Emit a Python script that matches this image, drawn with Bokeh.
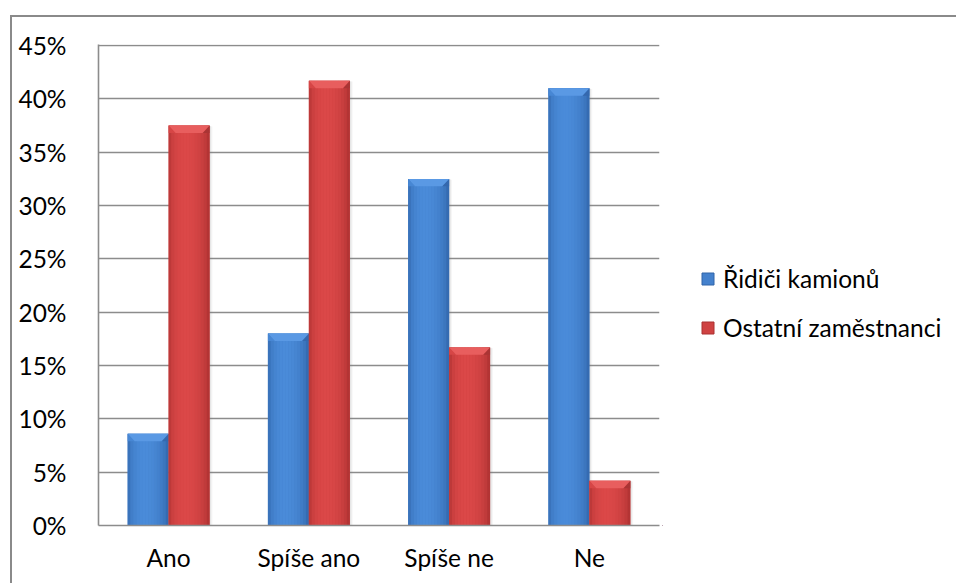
import math
from bokeh.plotting import figure
from bokeh.layouts import row
from bokeh.models import (FixedTicker, Legend, LegendItem, Range1d)
from bokeh.embed import file_html
from bokeh.resources import INLINE

# --- data -------------------------------------------------------------
categories = ["Ano", "Spíše ano", "Spíše ne", "Ne"]
series_names = ["Řidiči kamionů", "Ostatní zaměstnanci"]
ridici_kamionu = [8.6, 18.0, 32.5, 41.0]          # %
ostatni_zamestnanci = [37.5, 41.7, 16.7, 4.2]     # %
y_ticks = [0, 5, 10, 15, 20, 25, 30, 35, 40, 45]
y_tick_labels = ["0%", "5%", "10%", "15%", "20%", "25%", "30%", "35%", "40%", "45%"]

# --- style ------------------------------------------------------------
FONT = "Lato"
FONT_SIZE = "24.5px"
GRID = "#8c8c8c"
BAR_W = 0.292                      # width of one bar, in category units
BEVEL_DX = 0.05                    # bevel inset (category units)
BEVEL_DY = 0.7                     # bevel height (% units)
N_STRIPS = 14

palettes = {
    "blue": dict(edge=(0x2a, 0x5b, 0x9c), light=(0x4a, 0x8b, 0xd9),
                 top="#5a99e4", left="#4787d4", right="#3468ae"),
    "red": dict(edge=(0x9e, 0x2a, 0x2a), light=(0xdb, 0x48, 0x48),
                top="#e85e5e", left="#d64646", right="#aa3434"),
}

positions = [i + 0.5 for i in range(len(categories))]

# chart figure (plot area + axes)
p = figure(width=650, height=568, output_backend="svg", toolbar_location=None,
           x_range=Range1d(0, len(categories)), y_range=Range1d(0, 45.1),
           min_border_left=86, min_border_right=3, min_border_top=27,
           min_border_bottom=60)
p.outline_line_color = None
p.background_fill_color = "white"
p.border_fill_color = "white"


def mix(a, b, t):
    return "#%02x%02x%02x" % tuple(int(round(a[k] + (b[k] - a[k]) * t)) for k in range(3))


def draw_series(values, offset, pal):
    xs = [pos + offset for pos in positions]
    # soft drop shadow
    for k, a in ((0.020, 0.08), (0.011, 0.12)):
        p.vbar(x=[x + k for x in xs], top=[v - k * 4 for v in values], width=BAR_W,
               bottom=-1, fill_color="#7a7a7a", fill_alpha=a, line_color=None)
    p.vbar(x=xs, top=values, width=BAR_W, fill_color=mix(pal["edge"], pal["light"], 0.8),
           line_color=None)
    # cylindrical shading, strip by strip
    sx, st, sc = [], [], []
    sw = BAR_W / N_STRIPS
    for x, v in zip(xs, values):
        for j in range(N_STRIPS):
            t = (j + 0.5) / N_STRIPS
            prof = math.sin(math.pi * t ** 0.8) ** 0.45
            sx.append(x - BAR_W / 2 + sw * (j + 0.5))
            st.append(v)
            sc.append(mix(pal["edge"], pal["light"], prof))
    p.vbar(x=sx, top=st, width=sw * 1.02, fill_color=sc, line_color=None)
    # bevelled top
    tx, ty, lx, ly, rx, ry = [], [], [], [], [], []
    for x, v in zip(xs, values):
        x0, x1 = x - BAR_W / 2, x + BAR_W / 2
        tx.append([x0, x1, x1 - BEVEL_DX, x0 + BEVEL_DX])
        ty.append([v, v, v - BEVEL_DY, v - BEVEL_DY])
        lx.append([x0, x0 + BEVEL_DX, x0])
        ly.append([v, v - BEVEL_DY, v - BEVEL_DY])
        rx.append([x1, x1 - BEVEL_DX, x1])
        ry.append([v, v - BEVEL_DY, v - BEVEL_DY])
    p.patches(xs=lx, ys=ly, fill_color=pal["left"], line_color=None)
    p.patches(xs=rx, ys=ry, fill_color=pal["right"], line_color=None)
    p.patches(xs=tx, ys=ty, fill_color=pal["top"], line_color=None)


draw_series(ridici_kamionu, -BAR_W / 2, palettes["blue"])
draw_series(ostatni_zamestnanci, BAR_W / 2, palettes["red"])

# --- axes & grid --------------------------------------------------------
p.ygrid.ticker = FixedTicker(ticks=y_ticks)
p.ygrid.grid_line_color = GRID
p.ygrid.grid_line_width = 1.6
p.ygrid.level = "underlay"
p.xgrid.grid_line_color = None

p.yaxis.ticker = FixedTicker(ticks=y_ticks)
p.yaxis.major_label_overrides = {t: lab for t, lab in zip(y_ticks, y_tick_labels)}
p.xaxis.ticker = FixedTicker(ticks=positions)
p.xaxis.major_label_overrides = {pos: c for pos, c in zip(positions, categories)}

for ax in (p.xaxis, p.yaxis):
    ax.axis_line_color = GRID
    ax.axis_line_width = 1.6
    ax.major_tick_line_color = None
    ax.minor_tick_line_color = None
    ax.major_label_text_font = FONT
    ax.major_label_text_font_size = FONT_SIZE
    ax.major_label_text_color = "#000000"
p.yaxis.major_label_standoff = 26
p.xaxis.major_label_standoff = 11

# --- legend panel -------------------------------------------------------
q = figure(width=296, height=568, output_backend="svg", toolbar_location=None,
           x_range=Range1d(0, 1), y_range=Range1d(0, 1),
           min_border_left=0, min_border_right=0, min_border_top=0, min_border_bottom=0)
q.axis.visible = False
q.grid.grid_line_color = None
q.outline_line_color = None
q.border_fill_color = "white"
# legend keys: glyphs placed outside the visible range, shown only in the legend
keys = []
for pal in (palettes["blue"], palettes["red"]):
    keys.append(q.vbar(x=[-5], top=[-5], bottom=[-6], width=0.1,
                       fill_color=mix(pal["edge"], pal["light"], 0.8),
                       line_color=mix(pal["edge"], pal["light"], 0.2), line_width=1))
legend = Legend(items=[LegendItem(label=name, renderers=[r]) for name, r in zip(series_names, keys)],
                location=(38, 183), orientation="vertical",
                glyph_width=15, glyph_height=15, label_standoff=8,
                spacing=20, padding=0, margin=0,
                label_text_font=FONT, label_text_font_size=FONT_SIZE,
                label_text_color="#000000",
                border_line_color=None, background_fill_alpha=0)
q.add_layout(legend, "center")

layout = row(p, q, spacing=0)
layout.margin = (15, 0, 0, 10)
layout.styles = {"border-left": "2px solid #8a8a8a", "border-top": "2px solid #8a8a8a"}

open("out.html", "w").write(file_html(layout, INLINE))
